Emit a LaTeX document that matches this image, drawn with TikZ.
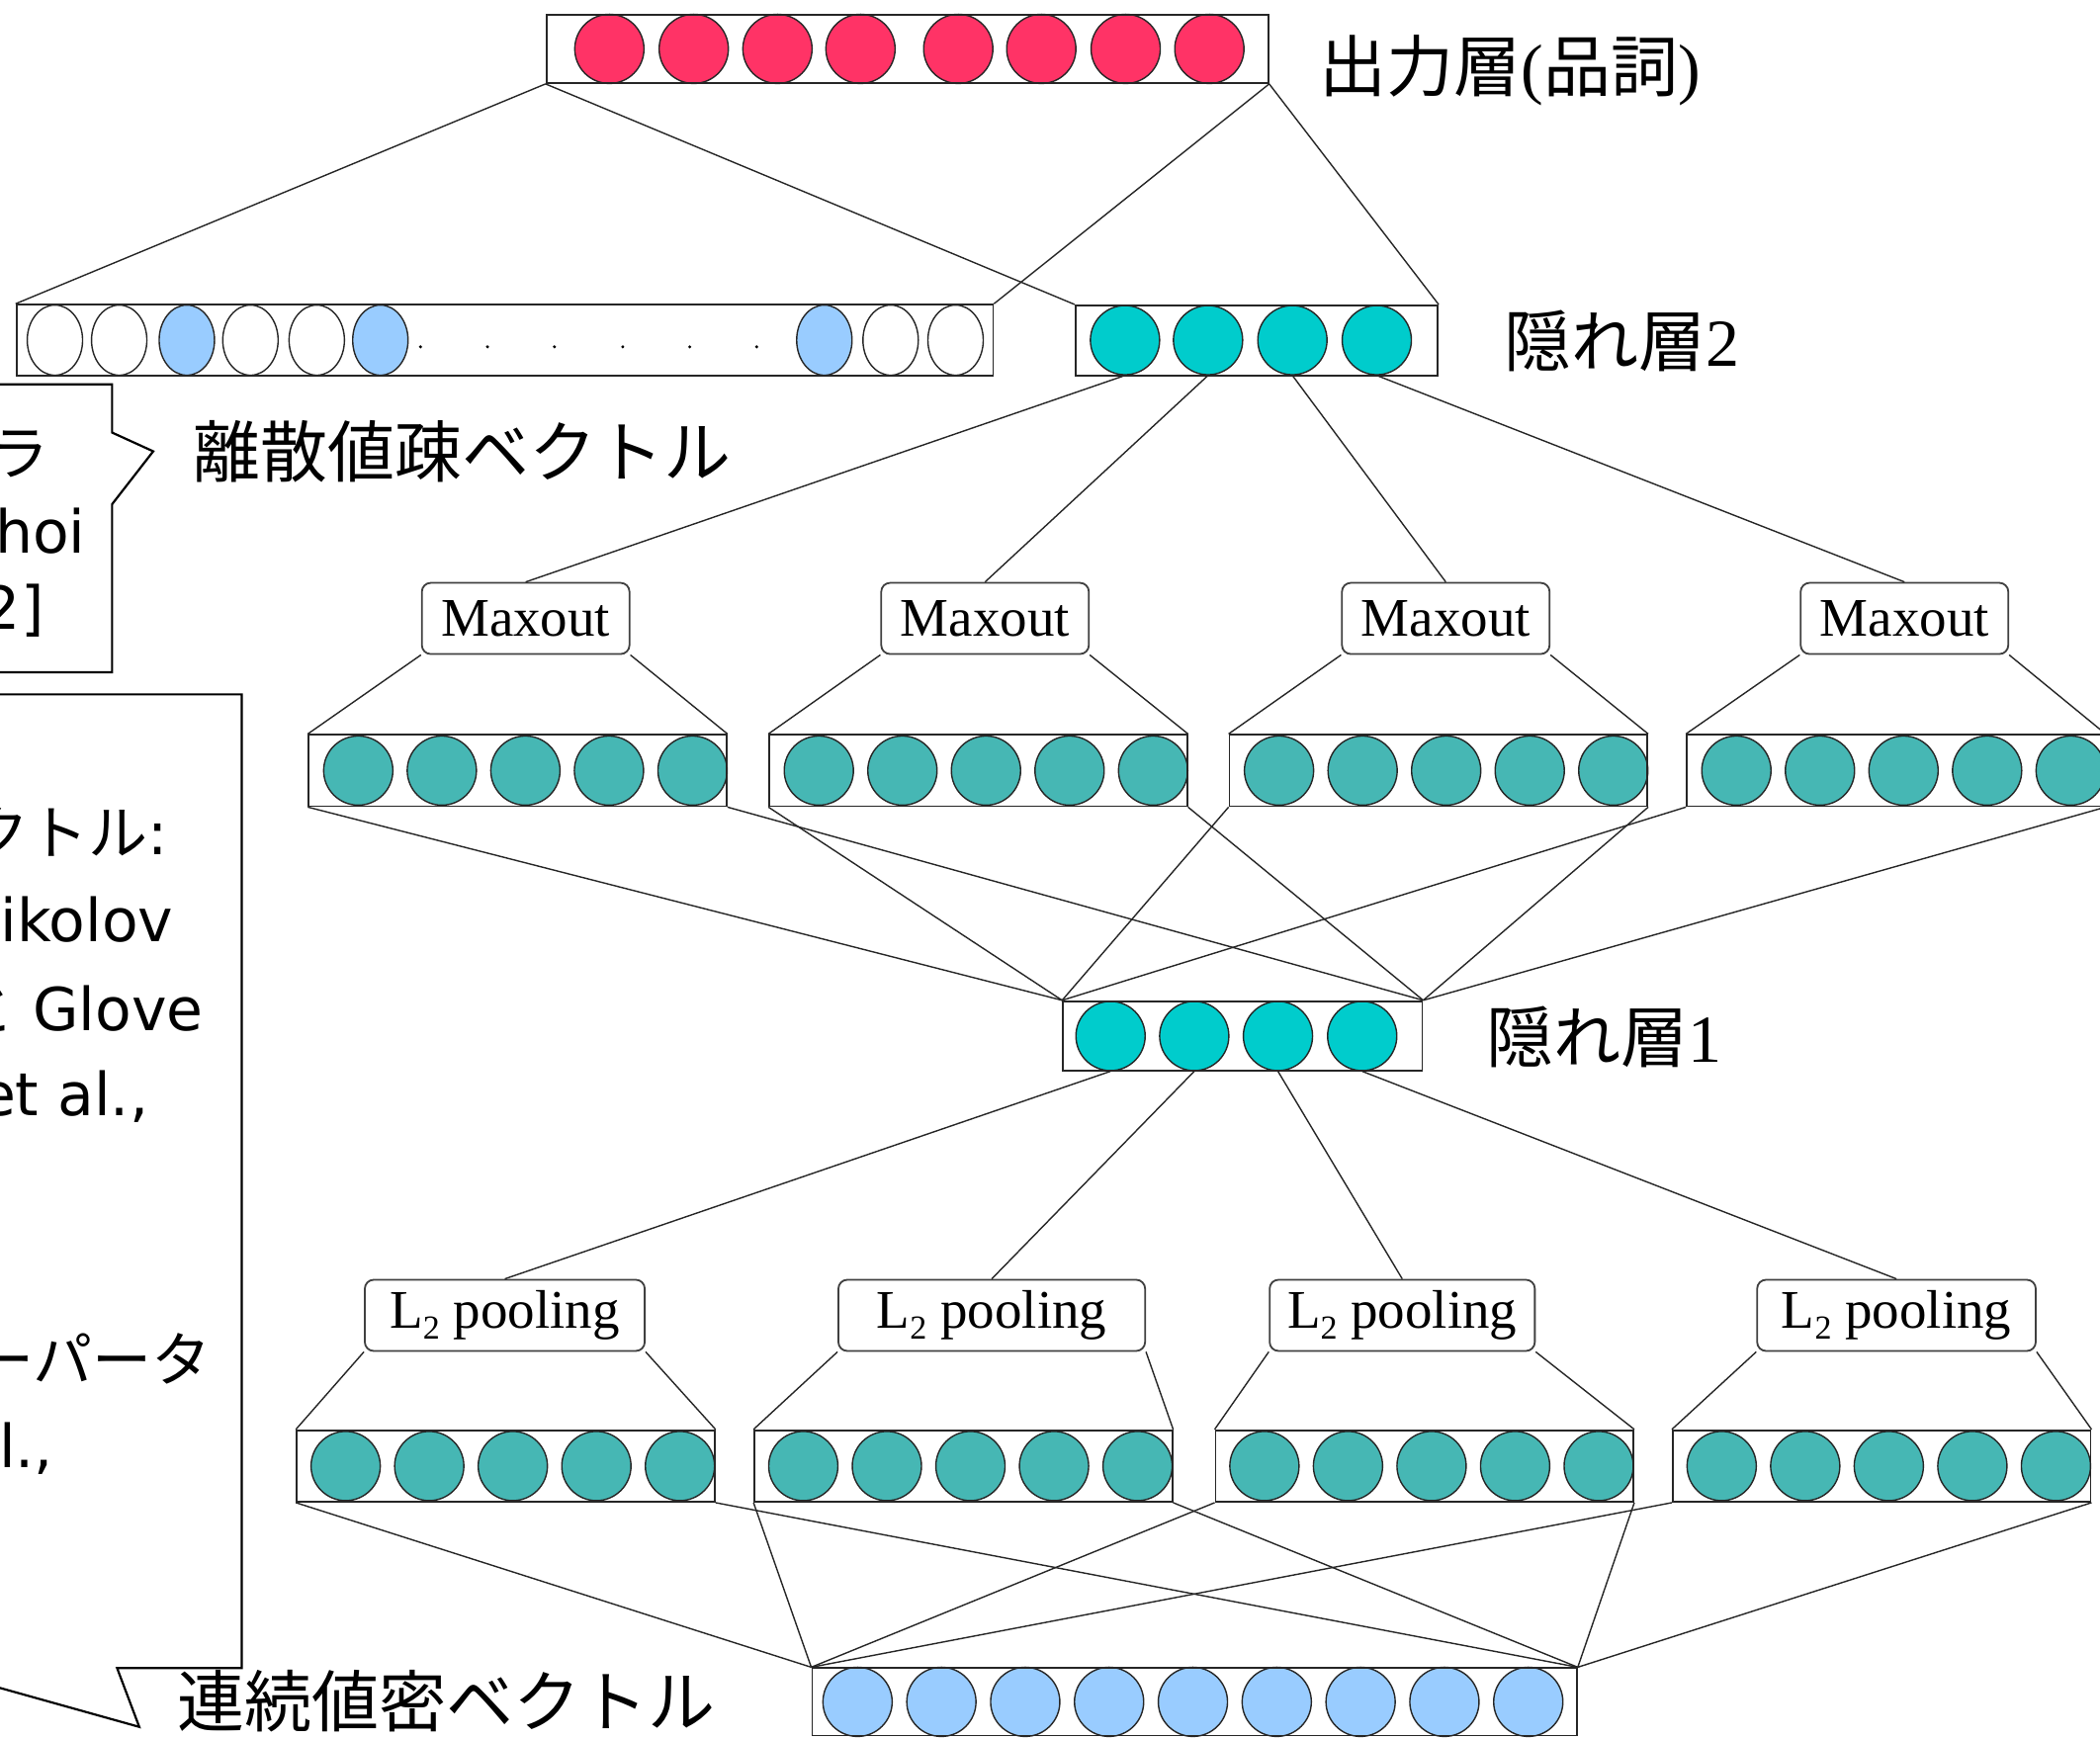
\documentclass[tikz,border=0pt]{standalone}
\usepackage{fontspec}
\setmainfont{Liberation Serif}
\newfontfamily\jp{Noto Sans CJK JP}
\newfontfamily\mei{DejaVu Sans}
\usetikzlibrary{fit,shapes.geometric}
\definecolor{outred}{HTML}{FF3366}
\definecolor{lblue}{HTML}{99CCFF}
\definecolor{hteal}{HTML}{00CCCC}
\definecolor{uteal}{HTML}{46B7B4}
\begin{document}
\begin{tikzpicture}[x=1.3546pt,y=-1.3546pt,
  layerbox/.style={draw=black!85, line width=1.8pt, inner sep=0pt},
  unit/.style={circle, draw=black!85, line width=1.4pt, minimum size=70pt, inner sep=0pt},
  sunit/.style={ellipse, draw=black!85, line width=1.4pt, minimum width=56pt, minimum height=71pt, inner sep=0pt},
  opbox/.style={draw=black!75, line width=1.8pt, rounded corners=9pt, fill=white, minimum width=210pt, minimum height=72pt, inner sep=0pt, font=\fontsize{55}{60}\selectfont},
  conn/.style={line width=1.4pt, draw=black!85},
  lab/.style={anchor=base west, inner sep=0pt, font=\fontsize{68}{74}\selectfont},
  note/.style={anchor=base east, inner sep=0pt, font=\fontsize{60}{66}\selectfont},
  callout/.style={draw=black, line width=2.2pt, fill=white, line join=miter}
]
\fill[white] (0,0) rectangle (1568,1298);
\useasboundingbox (0,0) rectangle (1568,1298);

% callouts (cut off at the left edge, as in the reference)
\draw[callout] (-20,287) -- (83.7,287) -- (83.7,323) -- (114.4,337) -- (83.7,376.5) -- (83.7,502) -- (-20,502);
\draw[callout] (-20,518.5) -- (180.5,518.5) -- (180.5,1245.5) -- (87.4,1245.5) -- (104,1289.5) -- (-20,1254.8);
\node[note] (n1) at (37,355) {\jp ラ};
\node[note] (n2) at (64,412.8) {\mei hoi};
\node[note] (n3) at (33,470) {\mei 2]};
\node[note] (n4) at (125.6,638) {{\jp ベクトル}\mei :};
\node[note] (n5) at (129.5,703.4) {\mei ikolov};
\node[note] (n6) at (152,769.8) {{\jp と}\mei\ Glove};
\node[note] (n7) at (111,833) {\mei et al.,};
\node[note] (n8) at (158,1032) {\jp ーパータ};
\node[note] (n9) at (40,1096) {\mei l.,};

% output layer
\foreach \cx [count=\i] in {455,518,580.5,642.5,715.5,777.5,840.5,903}
  \node[unit, fill=outred] (o-\i) at (\cx,36.5) {};
\node[layerbox, fit={(408,11) (947,62)}] (outl) {};
\node[lab] (lout) at (985,68) {{\jp 出力層}({\jp 品詞})};

% sparse vector
\foreach \cx/\f [count=\i] in {41/white,89/white,139.5/lblue,187/white,236.5/white,284/lblue,615.5/lblue,665/white,713.5/white}
  \node[sunit, fill=\f] (s-\i) at (\cx,254) {};
\foreach \dx in {314,364,414,465,515,565}
  \fill[black] (\dx,259) circle (1.7pt);
\node[layerbox, fit={(12.3,227.5) (741.5,280.5)}] (sp) {};
\node[lab] (lsp) at (144,356.5) {\jp 離散値疎ベクトル};

% hidden layer 2
\foreach \cx [count=\i] in {840,902,965,1028}
  \node[unit, fill=hteal] (h2-\i) at (\cx,254) {};
\node[layerbox, fit={(803,228) (1073.5,280.5)}] (h2) {};
\node[lab] (lh2) at (1123,273.5) {{\jp 隠れ層}2};

% maxout
\foreach \i/\cx in {1/392.5,2/735.5,3/1079.5,4/1422}
  \node[opbox] (m\i) at (\cx,461.8) {Maxout};
\foreach \r/\lx in {1/230.5,2/574.4,3/918,4/1259.5} {
  \foreach \k in {1,...,5}
    \node[unit, fill=uteal] (r\r-\k) at ({\lx+37+(\k-1)*62.4},575.4) {};
  \node[layerbox, fit={(\lx,548.7) ({\lx+312},602)}] (r\r) {};
}

% hidden layer 1
\foreach \cx [count=\i] in {829.2,891.7,954.2,1017.1}
  \node[unit, fill=hteal] (h1-\i) at (\cx,773.6) {};
\node[layerbox, fit={(793.7,747.6) (1062,799.6)}] (h1) {};
\node[lab] (lh1) at (1110,793) {{\jp 隠れ層}1};

% L2 pooling
\foreach \i/\cx/\w in {1/376.9/209,2/740.5/229,3/1047/198,4/1416/208}
  \node[opbox, minimum width=\w*1.3546pt] (p\i) at (\cx,982.2) {L\raisebox{-11pt}{\fontsize{34}{34}\selectfont 2} pooling};
\foreach \r/\lx in {1/221.6,2/563.3,3/907.6,4/1249} {
  \foreach \k in {1,...,5}
    \node[unit, fill=uteal] (q\r-\k) at ({\lx+36.5+(\k-1)*62.4},1094.7) {};
  \node[layerbox, fit={(\lx,1068) ({\lx+312},1121.4)}] (q\r) {};
}

% input dense vector
\foreach \k in {1,...,9}
  \node[unit, fill=lblue] (x-\k) at ({640.3+(\k-1)*62.6},1270.8) {};
\node[layerbox, fit={(606.4,1245.6) (1177.4,1296)}] (inp) {};
\node[lab] (lin) at (132,1289.5) {\jp 連続値密ベクトル};

% connectors
\draw[conn] (outl.south west) -- (sp.north west);
\draw[conn] (outl.south west) -- (h2.north west);
\draw[conn] (outl.south east) -- (sp.north east);
\draw[conn] (outl.south east) -- (h2.north east);
\foreach \i in {1,...,4} {
  \draw[conn] (h2-\i.south) -- (m\i.north);
  \draw[conn] (m\i.south west) -- (r\i.north west);
  \draw[conn] (m\i.south east) -- (r\i.north east);
  \draw[conn] (r\i.south west) -- (h1.north west);
  \draw[conn] (r\i.south east) -- (h1.north east);
  \draw[conn] (h1-\i.south) -- (p\i.north);
  \draw[conn] (p\i.south west) -- (q\i.north west);
  \draw[conn] (p\i.south east) -- (q\i.north east);
  \draw[conn] (q\i.south west) -- (inp.north west);
  \draw[conn] (q\i.south east) -- (inp.north east);
}
\end{tikzpicture}
\end{document}
